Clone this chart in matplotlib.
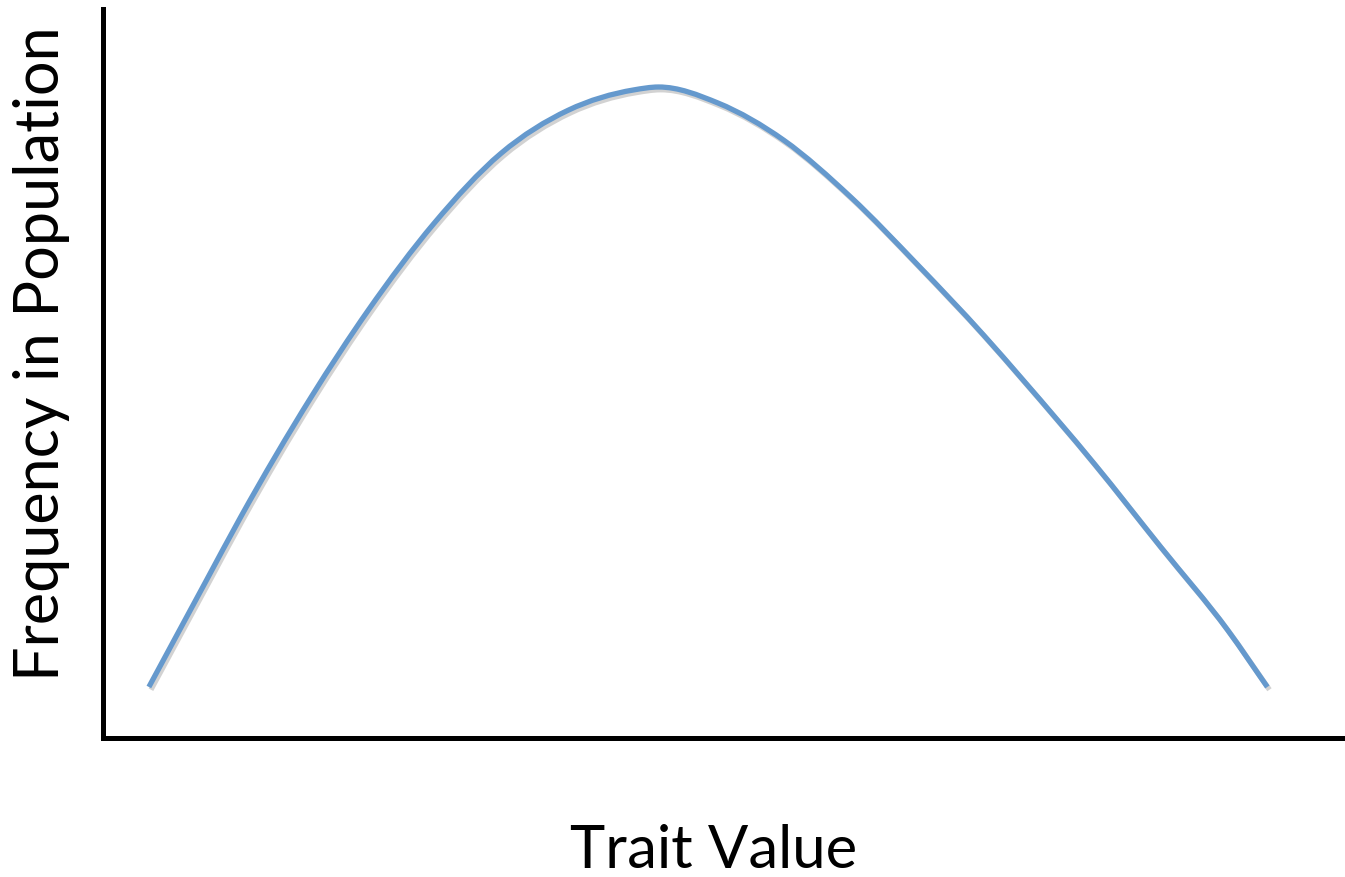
import matplotlib
matplotlib.use('Agg')
import matplotlib.pyplot as plt
import matplotlib.patheffects as pe
from matplotlib.path import Path
from matplotlib.patches import PathPatch

# Curve (trait value 0-100, frequency 0-100)
trait = [3.7, 8.3, 11.1, 16.8, 21.4, 26.7, 32.1, 37.5, 42.8, 44.8,
         49.6, 54.9, 60.3, 65.7, 71.0, 74.2, 79.9, 85.3, 90.7, 93.9]
freq = [7.0, 21.5, 30.3, 46.8, 58.7, 70.6, 80.2, 86.1, 88.9, 89.3,
        87.1, 82.0, 74.2, 64.9, 55.3, 49.1, 37.7, 26.2, 14.8, 7.0]

x_label = 'Trait Value'
y_label = 'Frequency in Population'


def smooth_path(xs, ys):
    # cubic Hermite through the read points (slopes weighted for uneven spacing)
    n = len(xs)
    sec = [(ys[i + 1] - ys[i]) / (xs[i + 1] - xs[i]) for i in range(n - 1)]
    m = [sec[0]]
    for i in range(1, n - 1):
        h0 = xs[i] - xs[i - 1]
        h1 = xs[i + 1] - xs[i]
        m.append((sec[i - 1] * h1 + sec[i] * h0) / (h0 + h1))
    m.append(sec[-1])
    verts = [(xs[0], ys[0])]
    codes = [Path.MOVETO]
    for i in range(n - 1):
        d = (xs[i + 1] - xs[i]) / 3
        verts += [(xs[i] + d, ys[i] + m[i] * d),
                  (xs[i + 1] - d, ys[i + 1] - m[i + 1] * d),
                  (xs[i + 1], ys[i + 1])]
        codes += [Path.CURVE4] * 3
    return Path(verts, codes)


W, H = 1345, 877
fig = plt.figure(figsize=(W / 100, H / 100), dpi=100)
ax = fig.add_axes([103 / W, (H - 738) / H, 1240 / W, 729 / H])

curve = PathPatch(smooth_path(trait, freq), fill=False, edgecolor='#6599cd',
                  lw=3.8, capstyle='butt', joinstyle='round',
                  path_effects=[pe.SimpleLineShadow(offset=(1.5, -2), shadow_color='gray', alpha=0.35),
                                pe.Normal()])
ax.add_patch(curve)

ax.set_xlim(0, 100)
ax.set_ylim(0, 100)
for side in ['top', 'right']:
    ax.spines[side].set_visible(False)
for side in ['left', 'bottom']:
    ax.spines[side].set_linewidth(3.6)
    ax.spines[side].set_color('black')
ax.set_xticks([])
ax.set_yticks([])

# axis titles placed like the original slide
fig.text(714 / W, 1 - 851 / H, x_label, ha='center', va='center',
         fontsize=43, family='Lato')
fig.text(42 / W, 1 - 354 / H, y_label, ha='center', va='center',
         rotation=90, fontsize=44, family='Lato')

fig.savefig('out.png', dpi=100)
